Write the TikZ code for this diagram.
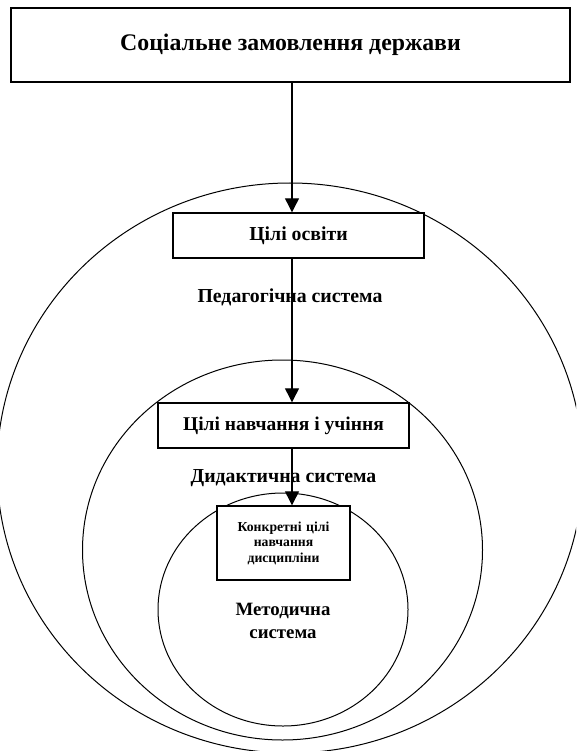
\documentclass[tikz,border=0pt]{standalone}
\usepackage{fontspec}
\setmainfont{Liberation Serif}
\usetikzlibrary{arrows.meta}
\begin{document}
\begin{tikzpicture}[x=1pt,y=-1pt,
  box/.style={draw,line width=1.4pt,fill=white,inner sep=0pt,align=center},
  ring/.style={draw,line width=1pt},
  arr/.style={line width=1.2pt,-{Triangle[length=14pt,width=14pt]}},
  lbl/.style={font=\fontsize{19.8}{23}\selectfont\bfseries,align=center,inner sep=0pt}]
\useasboundingbox (0,0) rectangle (576,751);
\clip (0,0) rectangle (576,751);
% ellipses
\draw[ring] (290,468) ellipse [x radius=293, y radius=285];
\draw[ring] (282.5,550) ellipse [x radius=200, y radius=190];
\draw[ring] (283,609.5) ellipse [x radius=125, y radius=116.5];
% boxes
\node[box,minimum width=559pt,minimum height=74pt,font=\fontsize{23.8}{28}\selectfont\bfseries] (top) at (290.5,45) {Соціальне замовлення держави};
\node[box,minimum width=251pt,minimum height=45pt,font=\fontsize{19.8}{22}\selectfont\bfseries] (c1) at (298.5,235.5) {Цілі освіти};
\node[box,minimum width=251pt,minimum height=45pt,font=\fontsize{19.5}{22}\selectfont\bfseries] (c2) at (283.5,425.5) {Цілі навчання і учіння};
\node[box,minimum width=133pt,minimum height=74pt,text width=133pt,font=\fontsize{13.7}{15.5}\selectfont\bfseries] (c3) at (283.5,543) {Конкретні цілі\\навчання\\дисципліни};
% labels
\node[lbl] (ped) at (290,297) {Педагогічна система};
\node[lbl] (did) at (283.5,478) {Дидактична система};
\node[lbl,font=\fontsize{18.8}{23}\selectfont\bfseries] (met) at (283,621) {Методична\\система};
% arrows
\coordinate (ax) at (292,0);
\draw[arr] (ax |- top.south) -- (ax |- c1.north);
\draw[arr] (ax |- c1.south) -- (ax |- c2.north);
\draw[arr] (ax |- c2.south) -- (ax |- c3.north);
\end{tikzpicture}
\end{document}
